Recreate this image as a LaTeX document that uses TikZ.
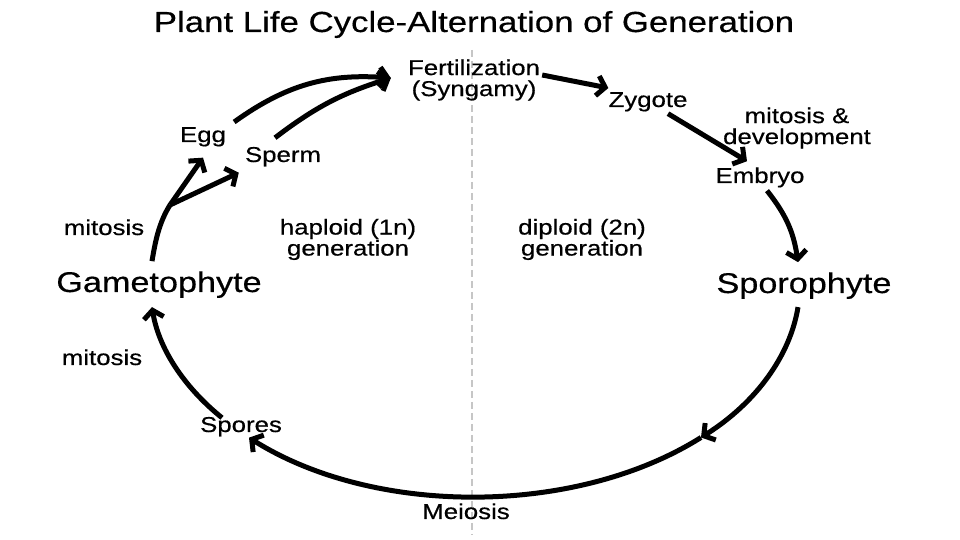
\documentclass[tikz,border=0pt]{standalone}
\usepackage{fontspec}
\setmainfont[FakeStretch=1.2, FakeBold=0.5]{Liberation Sans}
\usepackage{tikz}
\usetikzlibrary{arrows.meta, calc}

\begin{document}
\begin{tikzpicture}[x=1pt, y=1pt,
    lbl/.style={font=\fontsize{21.5}{21}\selectfont, inner sep=0pt, anchor=base},
    pair/.style={font=\fontsize{21.5}{21}\selectfont, inner sep=0pt, align=center},
    big/.style={font=\fontsize{28.5}{30}\selectfont, inner sep=0pt, anchor=base},
    cyc/.style={line width=5pt, -{Straight Barb[length=8pt, width=20pt]}},
    stem/.style={line width=5pt}]
          \useasboundingbox (0,0) rectangle (960,540);
          \coordinate (div-top) at (472,490);
          \coordinate (div-bot) at (472,5);
          \draw[gray!45, line width=1.5pt, dash pattern=on 7pt off 4pt] (div-top) -- (div-bot);
          \node[font=\fontsize{29}{30}\selectfont, inner sep=0pt, anchor=base] (title) at (474,508)
            {Plant Life Cycle-Alternation of Generation};
          \node[pair] (fer) at (474,460) {Fertilization\\(Syngamy)};
          \node[lbl] (zyg) at (648,433) {Zygote};
          \node[pair] (dev) at (797,412) {mitosis \&\\development};
          \node[lbl] (emb) at (760,357) {Embryo};
          \node[big] (spo) at (804,247) {Sporophyte};
          \node[big] (gam) at (159,248) {Gametophyte};
          \node[lbl] (egg) at (203,398) {Egg};
          \node[lbl] (spm) at (283,378) {Sperm};
          \node[lbl] (mit1) at (104,305) {mitosis};
          \node[lbl] (mit2) at (102,175) {mitosis};
          \node[pair] (hap) at (348,300.5) {haploid (1n)\\generation};
          \node[pair] (dip) at (582,300.5) {diploid (2n)\\generation};
          \node[lbl] (spr) at (241,108) {Spores};
          \node[lbl] (mei) at (466,21) {Meiosis};
          \coordinate (half) at (701,102.5);
          \coordinate (fork) at (170,335);
          \draw[cyc] ([shift={(-6,-8)}]spo.south) to[out=260.8, in=32.2, out looseness=0.78, in looseness=1.02] (half);
          \draw[cyc] (half) to[out=212.2, in=327.8, looseness=0.84] ([shift={(8,-1)}]spr.south);
          \draw[cyc] ([shift={(-19,-1)}]spr.north) to[out=141.1, in=279.2, out looseness=0.98, in looseness=0.8] ([shift={(-7,-9)}]gam.south);
          \draw[stem] ([shift={(-7,10)}]gam.north) to[out=80.5, in=238, out looseness=0.85, in looseness=0.92] (fork);
          \draw[cyc] (fork) -- ([yshift=-11]egg.south);
          \draw[cyc] (fork) -- ([shift={(-6,-6)}]spm.south west);
          \draw[cyc] ([shift={(8,5)}]egg.north east) to[bend left=20] ([shift={(-17,2)}]fer.west);
          \draw[cyc] ([shift={(-8,9)}]spm.north) to[bend left=10] ([shift={(-17,2)}]fer.west);
          \draw[cyc] ([shift={(2,5)}]fer.east) -- ([yshift=4]zyg.north west);
          \draw[cyc] ([shift={(20,-2)}]zyg.south) -- ([shift={(-13,6)}]emb.north);
          \draw[cyc] ([shift={(7,-3)}]emb.south) to[bend left=15] ([shift={(-6,10)}]spo.north);
        \end{tikzpicture}
\end{document}
